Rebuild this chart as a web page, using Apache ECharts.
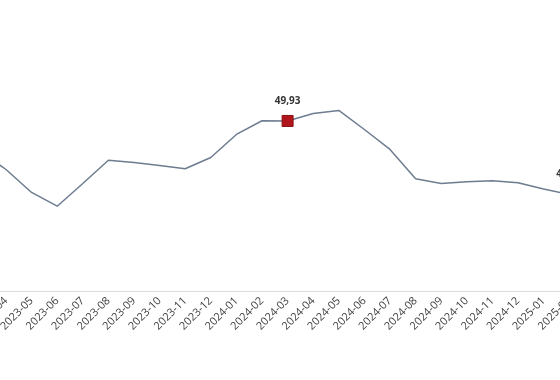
<!DOCTYPE html>
<html>
<head>
<meta charset="utf-8">
<script src="https://cdn.jsdelivr.net/npm/echarts@6/dist/echarts.min.js"></script>
<style>html,body{margin:0;padding:0;background:#fff}#c{width:560px;height:380px}</style>
</head>
<body>
<div id="c"></div>
<script>
const categories = ['2023-03','2023-04','2023-05','2023-06','2023-07','2023-08','2023-09','2023-10','2023-11','2023-12',
  '2024-01','2024-02','2024-03','2024-04','2024-05','2024-06','2024-07','2024-08','2024-09','2024-10','2024-11','2024-12',
  '2025-01','2025-02'];
const values = [46.35,44.24,41.55,39.94,42.60,45.33,45.06,44.71,44.33,45.65,
  48.35,49.95,49.93,50.81,51.16,48.93,46.59,43.15,42.60,42.80,42.92,42.69,
  41.96,41.31];
const highlighted = ['2024-03','2025-02'];

const data = values.map((v, i) => {
  const hi = highlighted.includes(categories[i]);
  return hi ? {
    value: v,
    symbol: 'rect',
    symbolSize: 11,
    itemStyle: {color: '#b0161b', borderColor: '#8a1014', borderWidth: 1},
    label: {show: true, position: 'top', distance: 9, fontSize: 10, fontWeight: 'bold', color: '#333',
      fontFamily: 'Open Sans', formatter: p => p.value.toFixed(2).replace('.', ',')}
  } : {value: v};
});

const chart = echarts.init(document.getElementById('c'));
chart.setOption({
  animation: false,
  backgroundColor: '#fff',
  grid: {left: -19.6, right: -9.2, top: 77.7, bottom: 89, containLabel: false, outerBoundsMode: 'none'},
  xAxis: {
    type: 'category',
    data: categories,
    boundaryGap: false,
    axisLine: {lineStyle: {color: '#dcdcdc', width: 1}},
    axisTick: {show: false},
    axisLabel: {rotate: 45, margin: 8, fontSize: 11, color: '#404040', fontFamily: 'Open Sans', interval: 0}
  },
  yAxis: {
    type: 'value', min: 30, max: 55,
    show: false,
    splitLine: {show: false}
  },
  series: [{
    type: 'line',
    data: data,
    showSymbol: true,
    symbol: 'none',
    lineStyle: {color: '#6e7c90', width: 1.5},
    itemStyle: {color: '#6e7c90'}
  }]
});
</script>
</body>
</html>
